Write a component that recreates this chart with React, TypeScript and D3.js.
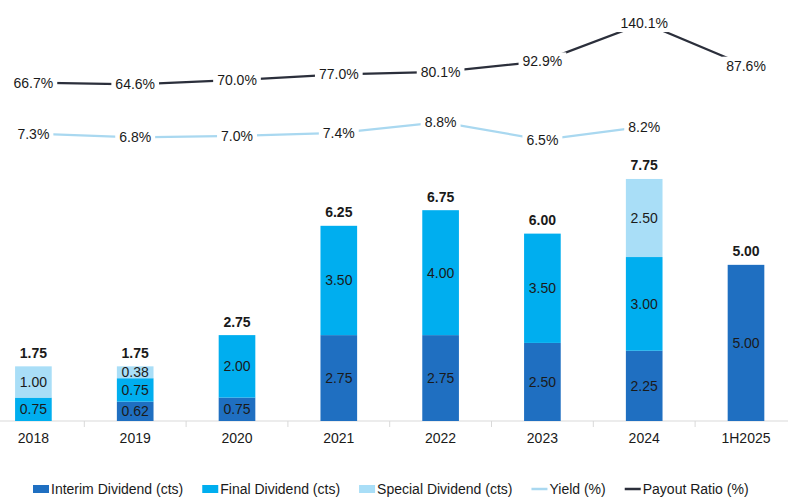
import React from "react";
import * as d3 from "d3";

const categories = ["2018", "2019", "2020", "2021", "2022", "2023", "2024", "1H2025"];
const interim = [0, 0.62, 0.75, 2.75, 2.75, 2.5, 2.25, 5.0];
const finalDiv = [0.75, 0.75, 2.0, 3.5, 4.0, 3.5, 3.0, 0];
const special = [1.0, 0.38, 0, 0, 0, 0, 2.5, 0];
const totals = [1.75, 1.75, 2.75, 6.25, 6.75, 6.0, 7.75, 5.0];
const yieldPct: (number | null)[] = [7.3, 6.8, 7.0, 7.4, 8.8, 6.5, 8.2, null];
const payout = [66.7, 64.6, 70.0, 77.0, 80.1, 92.9, 140.1, 87.6];

const W = 788;
const H = 504;
const FONT = "'Liberation Sans', Arial, sans-serif";
const C_INTERIM = "#1F6FC1";
const C_FINAL = "#00AEEF";
const C_SPECIAL = "#A9DEF7";
const C_YIELD = "#A9D8F0";
const C_PAYOUT = "#2B2F3B";
const TEXT = "#1a1a1a";

let ctx: CanvasRenderingContext2D | null = null;
function measure(t: string, bold = false) {
  if (!ctx) ctx = document.createElement("canvas").getContext("2d");
  if (!ctx) return t.length * 7.5;
  ctx.font = `${bold ? "bold " : ""}14px 'Liberation Sans', Arial`;
  return ctx.measureText(t).width;
}

export default function App() {
  const x = d3
    .scaleBand<string>()
    .domain(categories)
    .range([-17.5, 796.9])
    .paddingInner(0.64)
    .paddingOuter(0.32);
  const y = d3.scaleLinear().domain([0, 13]).range([421, 15]);
  const yPay = d3.scaleLinear().domain([-350, 150]).range([421, 15]);
  const yYld = d3.scaleLinear().domain([-30, 22.7]).range([421, 15]);
  const bw = x.bandwidth();
  const cx = (c: string) => (x(c) as number) + bw / 2;
  const step = x.step();
  const r0 = x.range()[0];

  const series = [
    { name: "Interim Dividend (cts)", vals: interim, color: C_INTERIM },
    { name: "Final Dividend (cts)", vals: finalDiv, color: C_FINAL },
    { name: "Special Dividend (cts)", vals: special, color: C_SPECIAL },
  ];
  const stacked = categories.map((c, i) => {
    let acc = 0;
    return series.map((s) => {
      const v0 = acc;
      acc += s.vals[i];
      return { c, v0, v1: acc, v: s.vals[i], color: s.color };
    });
  });

  const fmt = d3.format(".2f");
  const fmtP = (v: number) => d3.format(".1f")(v) + "%";

  const payLine = d3
    .line<number>()
    .x((_, i) => cx(categories[i]))
    .y((d) => yPay(d));
  const yldLine = d3
    .line<number | null>()
    .defined((d) => d != null)
    .x((_, i) => cx(categories[i]))
    .y((d) => yYld(d as number));

  const legendItems = [
    ...series.map((s) => ({ name: s.name, color: s.color, type: "rect" })),
    { name: "Yield (%)", color: C_YIELD, type: "line" },
    { name: "Payout Ratio (%)", color: C_PAYOUT, type: "line" },
  ];
  let lx = 33;
  const legendPos = legendItems.map((it) => {
    const p = lx;
    lx += 18 + measure(it.name) + 19;
    return p;
  });

  const lineLabel = (v: number, i: number, scale: (v: number) => number, key: string) => {
    const t = fmtP(v);
    const w = measure(t);
    const px = cx(categories[i]);
    const py = scale(v);
    return (
      <g key={key}>
        <rect x={px - w / 2 - 4} y={py - 9} width={w + 8} height={18} fill="#fff" />
        <text x={px} y={py} dy="0.35em" textAnchor="middle" fontSize={14} fill={TEXT}>
          {t}
        </text>
      </g>
    );
  };

  return (
    <svg
      width={W}
      height={H}
      style={{ position: "absolute", left: 0, top: 0, background: "#fff" }}
      fontFamily={FONT}
    >
      <rect width={W} height={H} fill="#fff" />
      {/* axis */}
      <line x1={0} x2={W} y1={y(0)} y2={y(0)} stroke="#D9D9D9" strokeWidth={1} />
      {d3.range(1, categories.length).map((k) => (
        <line
          key={k}
          x1={r0 + step * k}
          x2={r0 + step * k}
          y1={y(0)}
          y2={y(0) + 6}
          stroke="#D9D9D9"
        />
      ))}
      {categories.map((c) => (
        <text key={c} x={cx(c)} y={y(0) + 22} textAnchor="middle" fontSize={14} fill={TEXT}>
          {c}
        </text>
      ))}
      {/* bars */}
      {stacked.map((segs, i) =>
        segs
          .filter((s) => s.v > 0)
          .map((s, j) => (
            <rect
              key={`${i}-${j}`}
              x={x(s.c)}
              y={y(s.v1)}
              width={bw}
              height={y(s.v0) - y(s.v1)}
              fill={s.color}
            />
          ))
      )}
      {stacked.map((segs, i) =>
        segs
          .filter((s) => s.v > 0)
          .map((s, j) => (
            <text
              key={`t${i}-${j}`}
              x={cx(s.c)}
              y={(y(s.v0) + y(s.v1)) / 2}
              dy="0.35em"
              textAnchor="middle"
              fontSize={14}
              fill={TEXT}
            >
              {fmt(s.v)}
            </text>
          ))
      )}
      {categories.map((c, i) => (
        <text
          key={`tot${c}`}
          x={cx(c)}
          y={y(totals[i]) - 8.5}
          textAnchor="middle"
          fontSize={14}
          fontWeight="bold"
          fill={TEXT}
        >
          {fmt(totals[i])}
        </text>
      ))}
      {/* lines */}
      <path d={yldLine(yieldPct) || ""} fill="none" stroke={C_YIELD} strokeWidth={2.25} />
      <path d={payLine(payout) || ""} fill="none" stroke={C_PAYOUT} strokeWidth={2.25} />
      {yieldPct.map((v, i) => (v == null ? null : lineLabel(v, i, yYld, `y${i}`)))}
      {payout.map((v, i) => lineLabel(v, i, yPay, `p${i}`))}
      {/* legend */}
      {legendItems.map((it, k) => (
        <g key={it.name} transform={`translate(${legendPos[k]},489)`}>
          {it.type === "rect" ? (
            <rect x={0} y={-4} width={16} height={8} fill={it.color} />
          ) : (
            <line x1={0} x2={16} y1={0} y2={0} stroke={it.color} strokeWidth={2.5} />
          )}
          <text x={18} y={0} dy="0.35em" fontSize={14} fill={TEXT}>
            {it.name}
          </text>
        </g>
      ))}
    </svg>
  );
}
